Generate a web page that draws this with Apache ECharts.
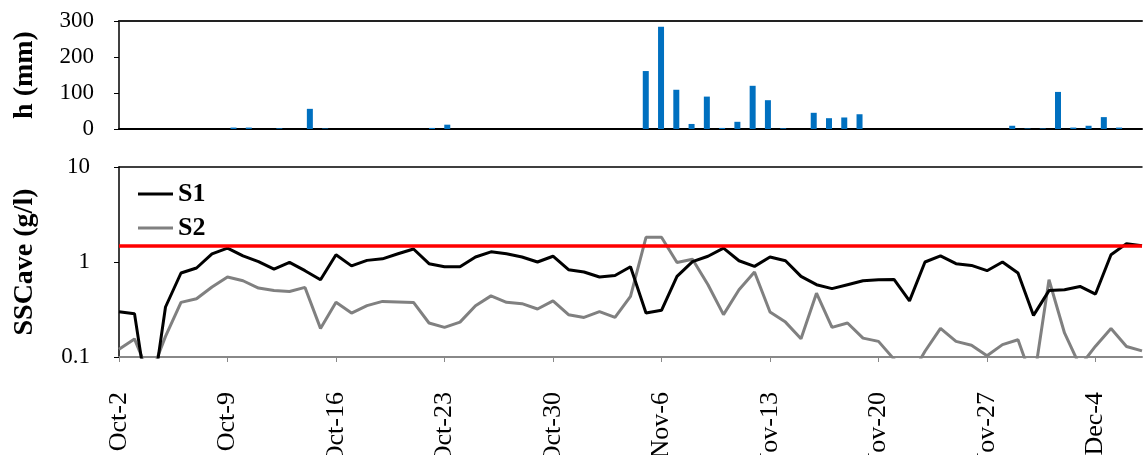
<!DOCTYPE html>
<html>
<head>
<meta charset="utf-8">
<script src="https://cdn.jsdelivr.net/npm/echarts@6/dist/echarts.min.js"></script>
<style>html,body{margin:0;padding:0;background:#fff}#c{width:1145px;height:455px}</style>
</head>
<body>
<div id="c"></div>
<script>
var dates = ['Oct-2','Oct-3','Oct-4','Oct-5','Oct-6','Oct-7','Oct-8','Oct-9','Oct-10','Oct-11','Oct-12','Oct-13','Oct-14','Oct-15','Oct-16','Oct-17','Oct-18','Oct-19','Oct-20','Oct-21','Oct-22','Oct-23','Oct-24','Oct-25','Oct-26','Oct-27','Oct-28','Oct-29','Oct-30','Oct-31',
'Nov-1','Nov-2','Nov-3','Nov-4','Nov-5','Nov-6','Nov-7','Nov-8','Nov-9','Nov-10','Nov-11','Nov-12','Nov-13','Nov-14','Nov-15','Nov-16','Nov-17','Nov-18','Nov-19','Nov-20','Nov-21','Nov-22','Nov-23','Nov-24','Nov-25','Nov-26','Nov-27','Nov-28','Nov-29','Nov-30',
'Dec-1','Dec-2','Dec-3','Dec-4','Dec-5','Dec-6','Dec-7'];

var rain = [0,0,0,0,0,0,0,4,4,0,2,0,56,1.5,0,0,0,0,0,0,3,12,0,0,0,0,0,0,0,0,
0,0,0,0,161,284,109,14,90,3,20,120,80,2,0,45,30,32,41,0,0,0,0,0,0,0,0,0,9,1.5,
1.5,103,4,9,33,4,0];

var s1 = [0.30,0.286,0.025,0.336,0.766,0.865,1.22,1.40,1.16,1.01,0.84,0.99,0.81,0.65,1.19,0.91,1.04,1.08,1.22,1.37,0.96,0.89,0.89,1.13,1.28,1.22,1.13,1.0,1.15,0.83,
0.785,0.695,0.72,0.89,0.29,0.31,0.705,1.01,1.15,1.40,1.03,0.90,1.13,1.03,0.705,0.577,0.524,0.577,0.635,0.65,0.655,0.39,1.0,1.16,0.96,0.92,0.81,1.0,0.766,0.274,
0.50,0.51,0.553,0.46,1.19,1.56,1.48];

var s2 = [0.121,0.155,0.062,0.165,0.376,0.41,0.545,0.695,0.635,0.532,0.50,0.49,0.54,0.20,0.376,0.29,0.347,0.385,0.38,0.375,0.228,0.205,0.233,0.347,0.44,0.376,0.364,0.32,0.39,0.279,
0.261,0.30,0.261,0.435,1.82,1.82,0.99,1.07,0.577,0.279,0.51,0.785,0.298,0.233,0.156,0.47,0.205,0.228,0.158,0.146,0.095,0.06,0.115,0.20,0.146,0.133,0.103,0.135,0.152,0.053,
0.65,0.179,0.08,0.13,0.20,0.129,0.116];

var threshold = 1.5;

var serif = "'Palatino Linotype','Book Antiqua',Palatino,'Liberation Serif',serif";

var chart = echarts.init(document.getElementById('c'), null, {renderer:'canvas'});
chart.setOption({
  animation: false,
  backgroundColor: '#fff',
  grid: [
    {left: 119, right: 3, top: 21, height: 108, outerBoundsMode: 'none', containLabel: false},
    {left: 119, right: 3, top: 167, height: 190, outerBoundsMode: 'none', containLabel: false}
  ],
  legend: {
    data: ['S1','S2'],
    orient: 'vertical',
    left: 133, top: 176,
    itemWidth: 35, itemHeight: 3, itemGap: 8,
    icon: 'rect',
    textStyle: {fontFamily: serif, fontSize: 26, fontWeight: 'bold', color: '#000'}
  },
  xAxis: [
    {gridIndex: 0, type: 'category', data: dates, boundaryGap: true,
     axisLine: {show: true, lineStyle: {color: '#000', width: 2}},
     axisTick: {show: false}, axisLabel: {show: false}, splitLine: {show: false}},
    {gridIndex: 0, type: 'category', data: dates, position: 'top', boundaryGap: true,
     axisLine: {show: true, lineStyle: {color: '#222', width: 2}},
     axisTick: {show: false}, axisLabel: {show: false}, splitLine: {show: false}},
    {gridIndex: 1, type: 'category', data: dates, boundaryGap: false,
     axisLine: {show: true, onZero: false, lineStyle: {color: '#888', width: 2}},
     axisTick: {show: true, interval: 6, length: 5, lineStyle: {color: '#888', width: 1}},
     axisLabel: {show: true, interval: 6, rotate: 90, margin: 35, fontFamily: serif, fontSize: 26, color: '#000'},
     splitLine: {show: false}},
    {gridIndex: 1, type: 'category', data: dates, position: 'top', boundaryGap: false,
     axisLine: {show: true, onZero: false, lineStyle: {color: '#000', width: 1.5}},
     axisTick: {show: false}, axisLabel: {show: false}, splitLine: {show: false}}
  ],
  yAxis: [
    {gridIndex: 0, type: 'value', min: 0, max: 300, interval: 100,
     name: 'h (mm)', nameLocation: 'middle', nameGap: 80,
     nameTextStyle: {fontFamily: serif, fontSize: 28, fontWeight: 'bold', color: '#000'},
     axisLine: {show: true, lineStyle: {color: '#000', width: 1.5}},
     axisTick: {show: true, length: 5, lineStyle: {color: '#000'}},
     axisLabel: {margin: 25, fontFamily: serif, fontSize: 23, color: '#000'},
     splitLine: {show: false}},
    {gridIndex: 1, type: 'log', logBase: 10, min: 0.1, max: 10,
     name: 'SSCave (g/l)', nameLocation: 'middle', nameGap: 80,
     nameTextStyle: {fontFamily: serif, fontSize: 28, fontWeight: 'bold', color: '#000'},
     axisLine: {show: true, lineStyle: {color: '#000', width: 1.5}},
     axisTick: {show: true, length: 5, lineStyle: {color: '#000'}},
     axisLabel: {margin: 29, fontFamily: serif, fontSize: 23, color: '#000',
       formatter: function(v){ return String(+(+v).toPrecision(3)); }},
     splitLine: {show: false}}
  ],
  series: [
    {name: 'h', type: 'bar', xAxisIndex: 0, yAxisIndex: 0, data: rain, barWidth: 6,
     itemStyle: {color: '#0070C0'}},
    {name: 'S1', type: 'line', xAxisIndex: 2, yAxisIndex: 1, data: s1, symbol: 'none',
     lineStyle: {color: '#000', width: 3}, itemStyle: {color: '#000'}, z: 3,
     markLine: {silent: true, symbol: 'none', label: {show: false},
       lineStyle: {color: '#ff0000', width: 3.5, type: 'solid'},
       data: [{yAxis: threshold}]}},
    {name: 'S2', type: 'line', xAxisIndex: 2, yAxisIndex: 1, data: s2, symbol: 'none',
     lineStyle: {color: '#808080', width: 3}, itemStyle: {color: '#808080'}, z: 2}
  ]
});
</script>
</body>
</html>
